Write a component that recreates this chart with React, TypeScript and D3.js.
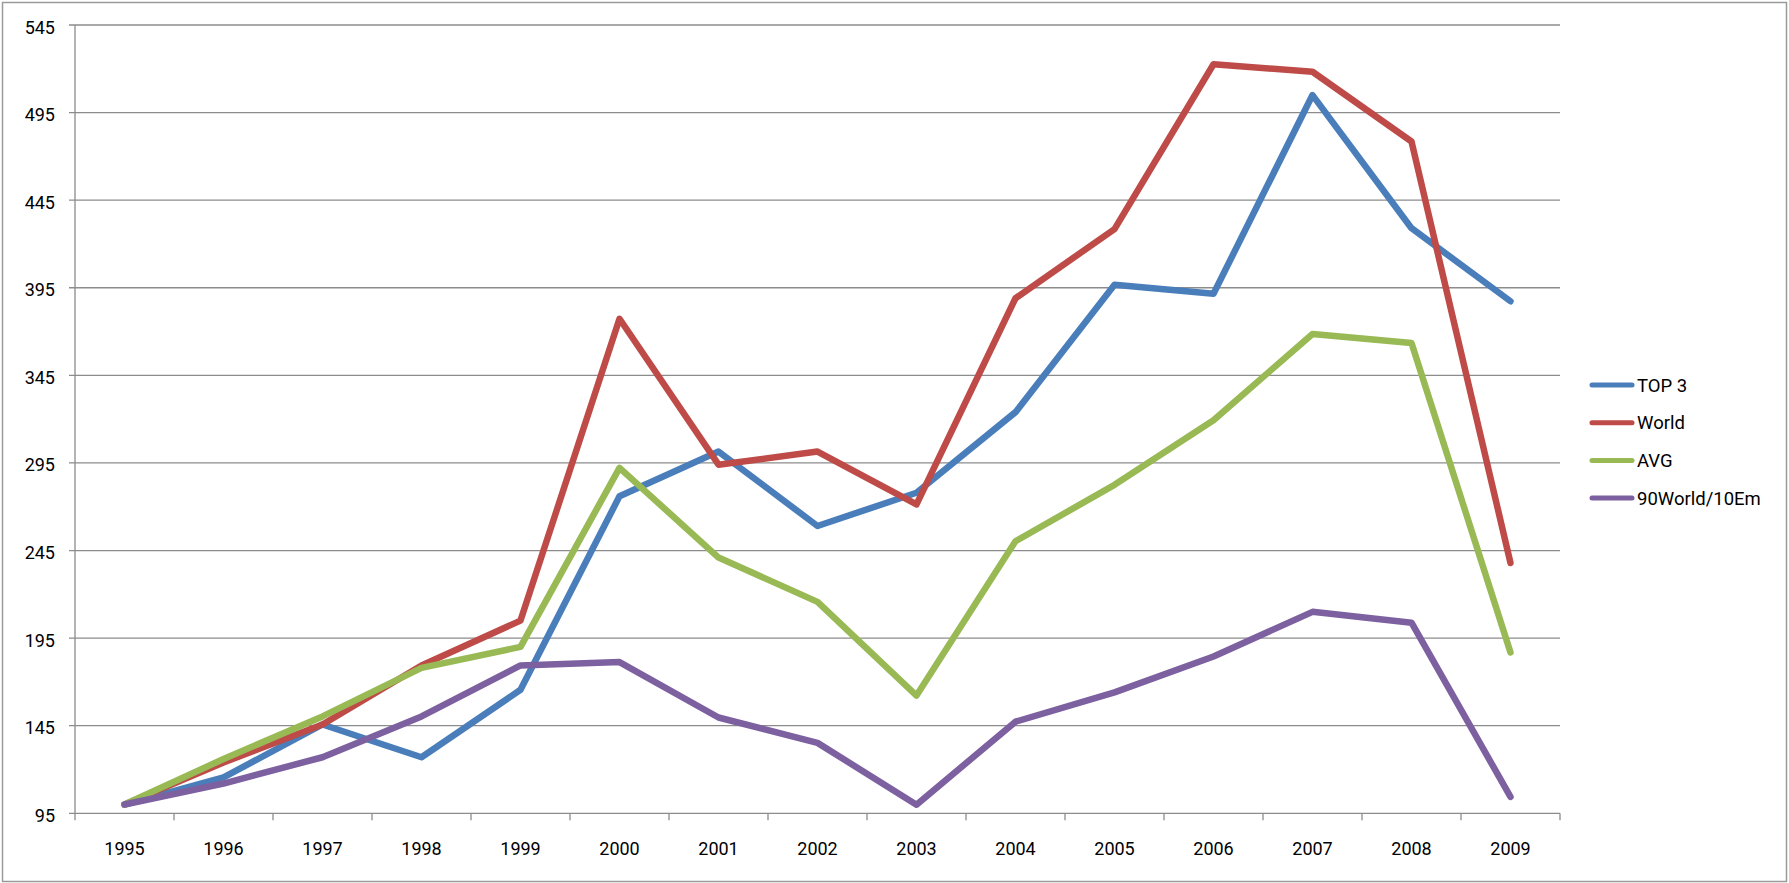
import React from "react";
import * as d3 from "d3";

const years = ["1995","1996","1997","1998","1999","2000","2001","2002","2003","2004","2005","2006","2007","2008","2009"];
const top3 = [100, 115.5, 145.7, 127, 165.5, 276, 301.5, 259, 278, 324, 396.7, 391.6, 505, 429, 387.3];
const world = [100, 124, 145.7, 179.4, 205, 377.3, 294, 301.5, 271.3, 389, 428.5, 522.6, 518.3, 478.5, 237.9];
const avg = [100, 126, 150.3, 178, 190, 292.2, 241, 215.7, 162.2, 250.3, 282.5, 319.4, 368.6, 363.5, 186.8];
const em = [100, 112, 127, 150.3, 179.4, 181.3, 149.7, 135.2, 99.9, 147.3, 164, 184.5, 210, 203.8, 104.4];
const seriesNames = ["TOP 3", "World", "AVG", "90World/10Em"];
const seriesColors = ["#4A7EBB", "#BE4B48", "#98B954", "#7D60A0"];
const yTicks = [95, 145, 195, 245, 295, 345, 395, 445, 495, 545];

const W = 1789, H = 883;
const L = 75, R = 1560, T = 25, B = 813.3;
const FONT = "Roboto, 'Open Sans', sans-serif";

export default function App() {
  const x = d3.scaleBand<string>().domain(years).range([L, R]);
  const y = d3.scaleLinear().domain([95, 545]).range([B, T]);
  const bw = x.bandwidth();
  const cx = (yr: string) => (x(yr) as number) + bw / 2;
  const data = [top3, world, avg, em];
  const line = d3.line<number>().x((_, i) => cx(years[i])).y((v) => y(v));
  const boundaries = years.map((yr) => x(yr) as number).concat([R]);

  return (
    <div style={{ position: "absolute", left: 0, top: 0 }}>
      <svg width={W} height={H} style={{ display: "block", background: "#fff" }}>
        <rect x={2.5} y={2.5} width={1784} height={879} fill="#fff" stroke="#9a9a9a" strokeWidth={1.5} />
        {yTicks.map((t) => (
          <line key={"g" + t} x1={L - 6} x2={R} y1={y(t)} y2={y(t)} stroke="#8c8c8c" strokeWidth={1.3} />
        ))}
        <line x1={L} x2={L} y1={T} y2={B} stroke="#8c8c8c" strokeWidth={1.3} />
        {boundaries.map((bx, i) => (
          <line key={"t" + i} x1={bx} x2={bx} y1={B} y2={B + 7} stroke="#8c8c8c" strokeWidth={1.3} />
        ))}
        {yTicks.map((t) => (
          <text key={"yl" + t} x={55} y={y(t) + 8.5} textAnchor="end" fontFamily={FONT} fontSize={18} fill="#000">
            {t}
          </text>
        ))}
        {years.map((yr) => (
          <text key={"xl" + yr} x={cx(yr)} y={855} textAnchor="middle" fontFamily={FONT} fontSize={18} fill="#000">
            {yr}
          </text>
        ))}
        {data.map((d, i) => (
          <path key={"s" + i} d={line(d) || ""} fill="none" stroke={seriesColors[i]} strokeWidth={6.5}
            strokeLinejoin="round" strokeLinecap="round" />
        ))}
        {seriesNames.map((n, i) => {
          const ly = 385 + i * 37.7;
          return (
            <g key={"lg" + i}>
              <line x1={1592} x2={1632} y1={ly} y2={ly} stroke={seriesColors[i]} strokeWidth={5} strokeLinecap="round" />
              <text x={1637} y={ly + 6.5} fontFamily={FONT} fontSize={18.5} fill="#000">{n}</text>
            </g>
          );
        })}
      </svg>
    </div>
  );
}
